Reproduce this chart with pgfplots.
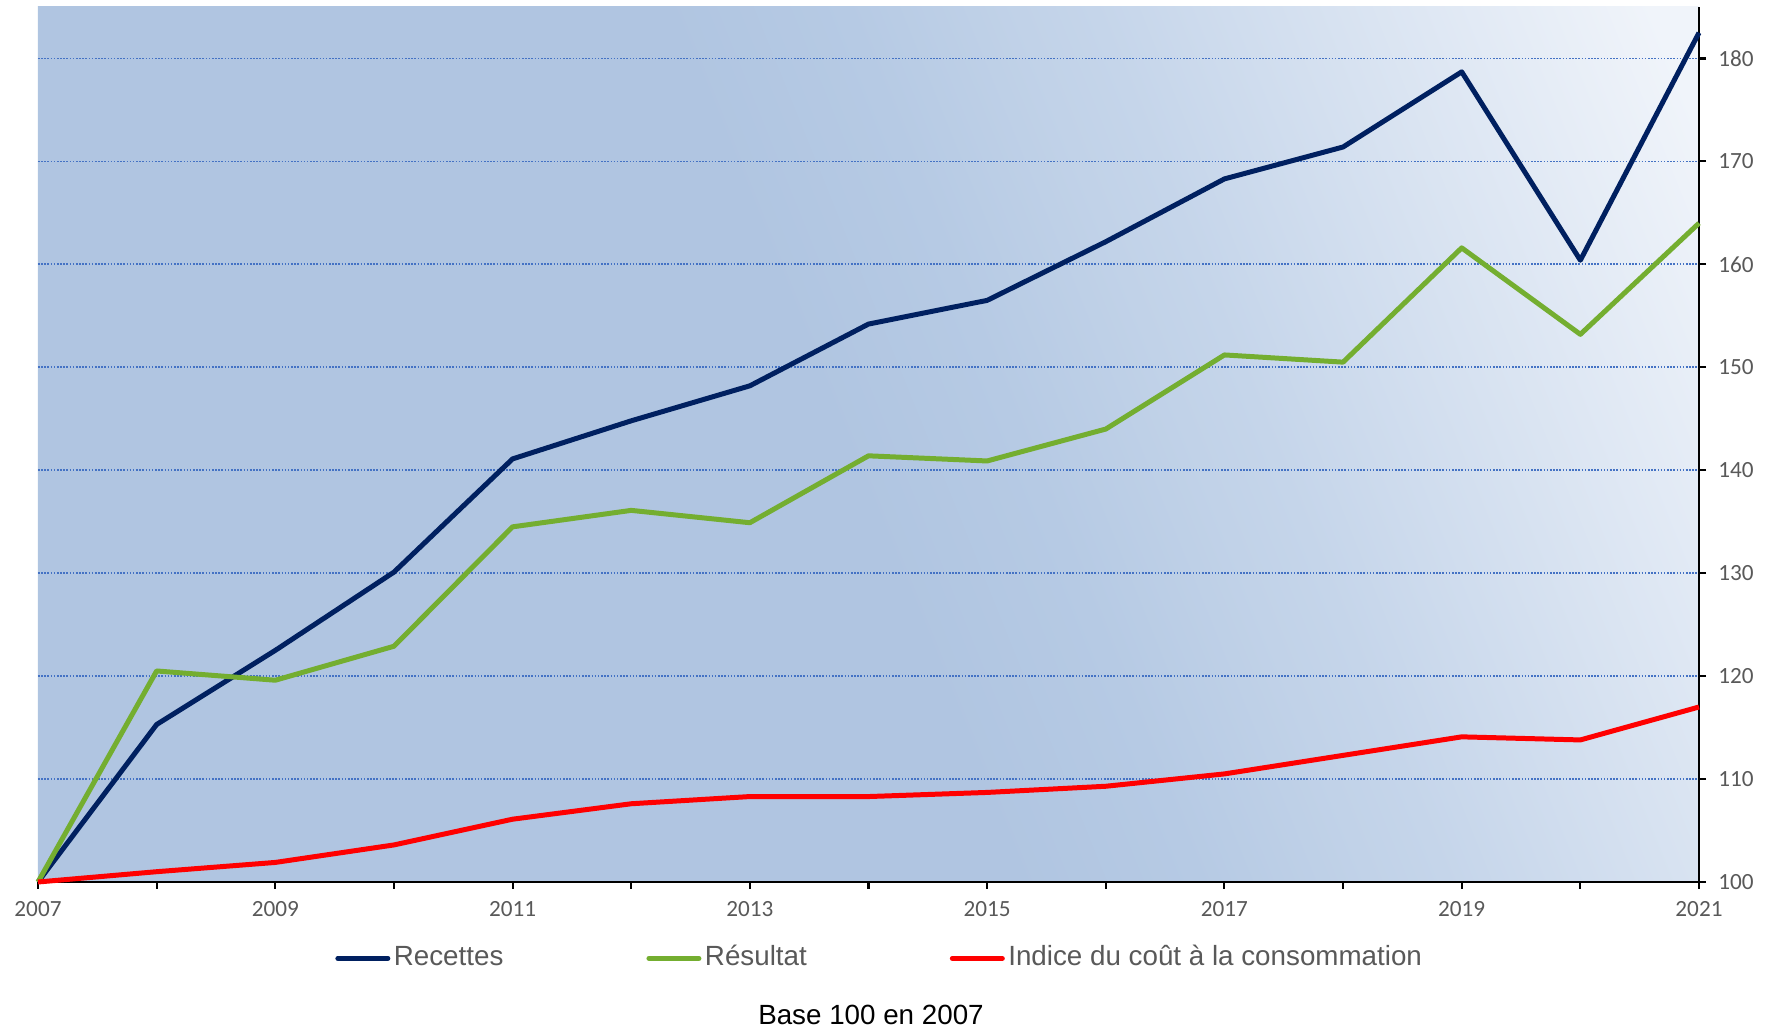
\documentclass[border=0pt]{standalone}
\usepackage{pgfplots}
\pgfplotsset{compat=1.18}
\usepackage{fontspec}
\setmainfont{Liberation Sans}
\newfontfamily\carlito{Carlito}
\definecolor{navyc}{HTML}{002060}
\definecolor{greenc}{HTML}{74AE30}
\definecolor{redc}{HTML}{FF0000}
\definecolor{gridc}{HTML}{4472C4}
\definecolor{txtc}{HTML}{595959}
\definecolor{bgA}{HTML}{B0C5E1}
\definecolor{bgB}{HTML}{B6CAE4}
\definecolor{bgC}{HTML}{C1D2E8}
\definecolor{bgD}{HTML}{C5D5EA}
\definecolor{bgE}{HTML}{F0F4FA}
\definecolor{bgF}{HTML}{F4F7FC}
\pgfdeclarehorizontalshading{bgshade}{100bp}{color(0bp)=(bgA); color(49bp)=(bgA); color(55bp)=(bgB); color(60.5bp)=(bgC); color(63bp)=(bgD); color(81bp)=(bgE); color(100bp)=(bgF)}
\begin{document}
\begin{tikzpicture}
\useasboundingbox (-3.8mm,-14.6mm) rectangle (173.4mm,88.2mm);
\begin{axis}[
  at={(0,0)}, anchor=south west,
  scale only axis,
  width=166.1mm, height=87.5mm,
  xmin=2007, xmax=2021, ymin=100, ymax=185,
  clip=false,
  axis x line*=bottom, axis y line*=right,
  axis line style={black, line width=0.8pt},
  xtick={2007,2008,...,2021},
  xticklabels={2007,,2009,,2011,,2013,,2015,,2017,,2019,,2021},
  ytick={100,110,...,180},
  tick align=outside,
  major tick length=0.7mm,
  tick style={black, line width=0.6pt},
  /pgf/number format/assume math mode=true,
  ticklabel style={font=\carlito\fontsize{6.6}{7}\selectfont, text=txtc},
  ymajorgrids,
  major grid style={gridc, dash pattern=on 0.45pt off 0.45pt, line width=0.5pt},
  axis background/.style={shading=bgshade, shading angle=22},
  legend columns=3,
  legend style={draw=none, fill=none, at={(rel axis cs:0.1786,-0.0873)}, anchor=west,
    font=\fontsize{7.9}{9}\selectfont, text=txtc, inner sep=0pt,
    nodes={inner xsep=1.0pt},
    /tikz/every even column/.append style={column sep=13.95mm}},
  legend image code/.code={\draw[#1, line cap=round] (0mm,0mm) -- (5mm,0mm);},
  every axis plot/.append style={line width=1.42pt, line join=round},
]
\addplot[navyc] coordinates {
(2007,100) (2008,115.3) (2009,122.5) (2010,130.1) (2011,141.1) (2012,144.8) (2013,148.2)
(2014,154.2) (2015,156.5) (2016,162.2) (2017,168.3) (2018,171.4) (2019,178.7) (2020,160.4) (2021,182.5)};
\addlegendentry{Recettes}
\addplot[greenc] coordinates {
(2007,100) (2008,120.5) (2009,119.6) (2010,122.9) (2011,134.5) (2012,136.1) (2013,134.9)
(2014,141.4) (2015,140.9) (2016,144.0) (2017,151.2) (2018,150.5) (2019,161.6) (2020,153.2) (2021,164.0)};
\addlegendentry{Résultat}
\addplot[redc] coordinates {
(2007,100) (2008,101.0) (2009,101.9) (2010,103.6) (2011,106.1) (2012,107.6) (2013,108.3)
(2014,108.3) (2015,108.7) (2016,109.3) (2017,110.5) (2018,112.3) (2019,114.1) (2020,113.8) (2021,117.0)};
\addlegendentry{Indice du coût à la consommation}
\node[font=\fontsize{7.9}{9}\selectfont, text=black] at (rel axis cs:0.5015,-0.152) {Base 100 en 2007};
\end{axis}
\end{tikzpicture}
\end{document}
